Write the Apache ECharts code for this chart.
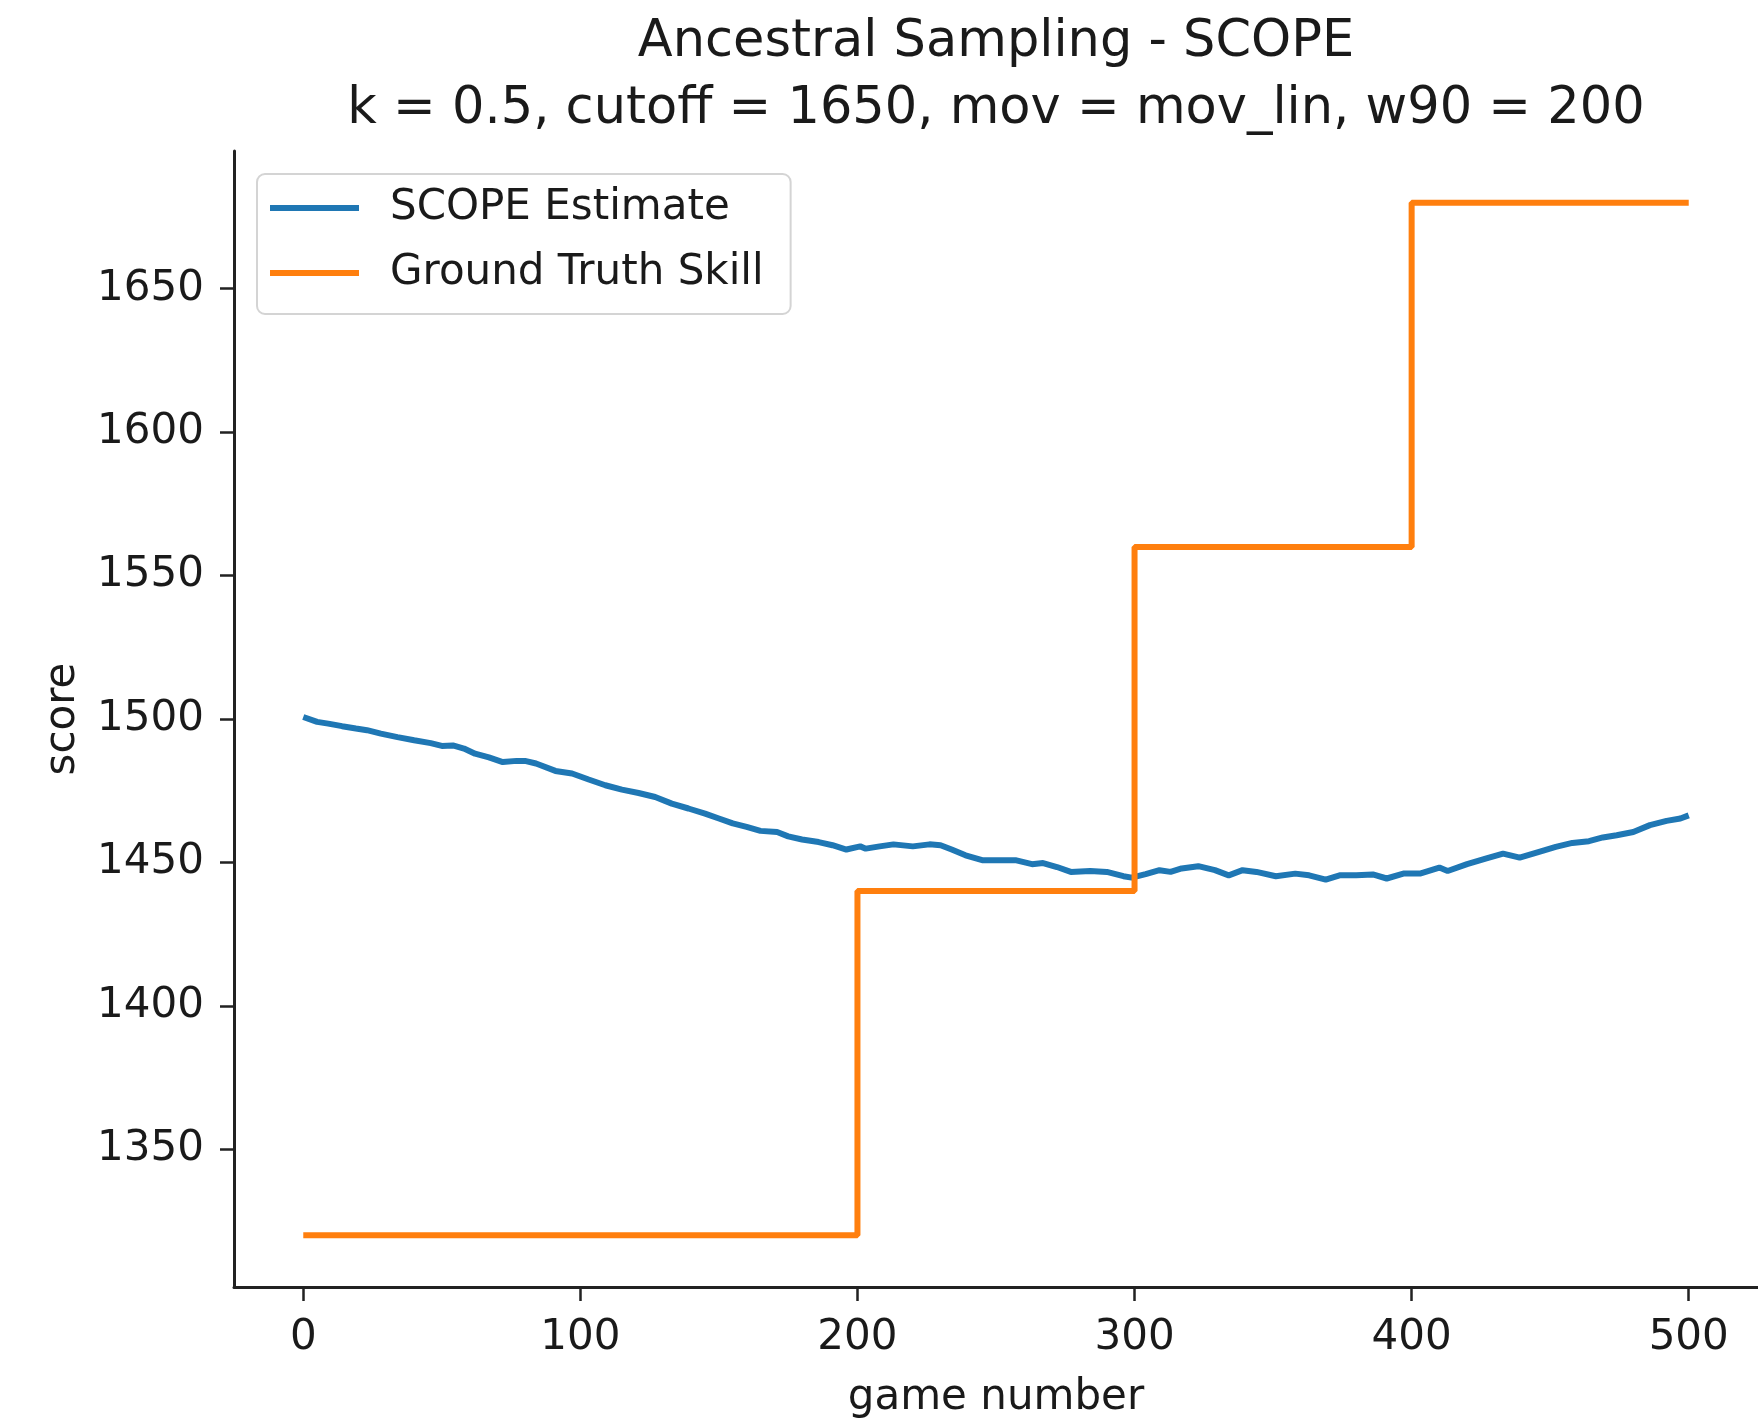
<!DOCTYPE html>
<html>
<head>
<meta charset="utf-8">
<script src="https://cdn.jsdelivr.net/npm/echarts@6/dist/echarts.min.js"></script>
<style>
html,body{margin:0;padding:0;background:#fff;}
#chart{width:1758px;height:1421px;}
</style>
</head>
<body>
<div id="chart"></div>
<script>
// ---- data ----
const titleLines = ['Ancestral Sampling - SCOPE', 'k = 0.5, cutoff = 1650, mov = mov_lin, w90 = 200'];
const seriesNames = ['SCOPE Estimate', 'Ground Truth Skill'];
const xTicks = [0, 100, 200, 300, 400, 500];
const yTicks = [1350, 1400, 1450, 1500, 1550, 1600, 1650];

const estGames = [0,5,9,14,19,23,28,34,40,46,50,54,58,62,67,72,77,80,84,91,97,103,109,115,121,127,133,139,145,150,155,160,165,171,175,180,186,191,196,201,203,208,213,220,226,230,234,239,245,251,257,263,267,272,277,284,290,296,299,304,309,313,317,323,329,334,339,344,351,358,363,369,374,380,386,391,397,403,410,413,420,427,433,439,446,452,458,464,469,474,480,486,492,497,500];
const estScores = [1500.7,1499.0,1498.4,1497.5,1496.7,1496.1,1494.9,1493.7,1492.6,1491.6,1490.6,1490.8,1489.7,1487.9,1486.6,1485.0,1485.4,1485.4,1484.5,1481.9,1481.0,1478.9,1476.9,1475.4,1474.2,1472.8,1470.5,1468.8,1467.0,1465.3,1463.6,1462.4,1461.0,1460.6,1459.1,1458.0,1457.1,1456.0,1454.5,1455.6,1454.8,1455.6,1456.3,1455.6,1456.3,1456.0,1454.5,1452.5,1450.8,1450.8,1450.8,1449.4,1449.8,1448.4,1446.7,1447.0,1446.7,1445.2,1444.7,1445.9,1447.3,1446.7,1447.9,1448.7,1447.3,1445.5,1447.3,1446.7,1445.2,1446.1,1445.5,1444.0,1445.5,1445.5,1445.8,1444.4,1446.1,1446.1,1448.2,1447.0,1449.4,1451.4,1453.1,1451.7,1453.7,1455.4,1456.8,1457.4,1458.7,1459.5,1460.6,1463.0,1464.5,1465.3,1466.4];

const truthGames = [0, 200, 300, 400, 500];
const truthSkill = [1320, 1440, 1560, 1680, 1680];

// ---- chart ----
const FONT = 'DejaVu Sans';
const INK = '#1a1a1a';
const chart = echarts.init(document.getElementById('chart'), null, {renderer: 'canvas'});

const estData = estGames.map((g, i) => [g, estScores[i]]);
const truthData = truthGames.map((g, i) => [g, truthSkill[i]]);

chart.setOption({
  animation: false,
  backgroundColor: '#ffffff',
  title: {
    text: titleLines.join('\n'),
    left: 996,
    top: 9,
    padding: 0,
    textAlign: 'center',
    textStyle: {fontFamily: FONT, fontSize: 51, fontWeight: 'normal', color: INK, lineHeight: 67}
  },
  legend: {
    orient: 'vertical',
    left: 257,
    top: 174,
    padding: [13, 27, 20, 13],
    itemGap: 23,
    itemWidth: 89,
    itemHeight: 6,
    icon: 'rect',
    backgroundColor: 'rgba(255,255,255,0.8)',
    borderColor: '#d4d4d4',
    borderWidth: 2,
    borderRadius: 8,
    data: seriesNames,
    textStyle: {fontFamily: FONT, fontSize: 42, color: INK, lineHeight: 42, padding: [0, 0, 0, 26]}
  },
  grid: {left: 234, top: 151, right: 0, bottom: 134, containLabel: false, outerBoundsMode: 'none'},
  xAxis: {
    type: 'value',
    min: -25,
    max: 525,
    name: 'game number',
    nameLocation: 'middle',
    nameGap: 90,
    nameTextStyle: {fontFamily: FONT, fontSize: 42, color: INK},
    axisLine: {show: true, onZero: false, lineStyle: {color: '#222', width: 3}},
    axisTick: {show: true, length: 14, lineStyle: {color: '#222', width: 2.5}, customValues: xTicks},
    axisLabel: {fontFamily: FONT, fontSize: 42, color: INK, margin: 30, customValues: xTicks, formatter: v => String(v)},
    splitLine: {show: false}
  },
  yAxis: {
    type: 'value',
    min: 1302,
    max: 1698,
    name: 'score',
    nameLocation: 'middle',
    nameGap: 150,
    nameTextStyle: {fontFamily: FONT, fontSize: 42, color: INK},
    axisLine: {show: true, onZero: false, lineStyle: {color: '#222', width: 3}},
    axisTick: {show: true, length: 14, lineStyle: {color: '#222', width: 2.5}, customValues: yTicks},
    axisLabel: {fontFamily: FONT, fontSize: 42, color: INK, margin: 30, customValues: yTicks, formatter: v => String(v)},
    splitLine: {show: false}
  },
  series: [
    {
      name: seriesNames[0],
      type: 'line',
      data: estData,
      symbol: 'none',
      smooth: false,
      lineStyle: {color: '#1f77b4', width: 6},
      itemStyle: {color: '#1f77b4'},
      z: 3
    },
    {
      name: seriesNames[1],
      type: 'line',
      data: truthData,
      step: 'end',
      symbol: 'none',
      lineStyle: {color: '#ff7f0e', width: 6},
      itemStyle: {color: '#ff7f0e'},
      z: 4
    }
  ]
});
</script>
</body>
</html>
